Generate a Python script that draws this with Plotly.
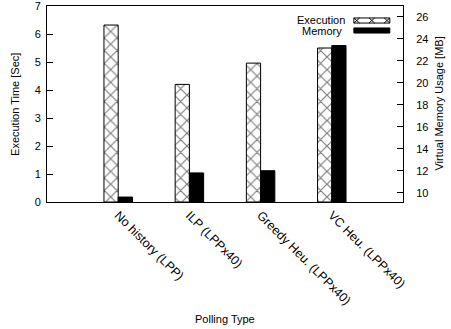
import plotly.graph_objects as go

categories = ["No history (LPP)", "ILP (LPPx40)", "Greedy Heu. (LPPx40)", "VC Heu. (LPPx40)"]
execution_sec = [6.32, 4.2, 4.96, 5.5]
memory_mb = [9.6, 11.8, 12.0, 23.4]
left_ticks = [0, 1, 2, 3, 4, 5, 6, 7]
right_ticks = [10, 12, 14, 16, 18, 20, 22, 24, 26]

FONT = "Liberation Sans, Arial, Helvetica, sans-serif"
idx = list(range(len(categories)))

fig = go.Figure()
fig.add_trace(go.Bar(
    x=idx, y=execution_sec, name="Execution", yaxis="y",
    offset=-0.2, width=0.2,
    marker=dict(color="white", line=dict(color="black", width=1),
                pattern=dict(shape="x", fgcolor="black", bgcolor="white", size=9, solidity=0.25)),
    showlegend=False,
))
fig.add_trace(go.Bar(
    x=idx, y=memory_mb, name="Memory", yaxis="y2",
    offset=0.0, width=0.2,
    marker=dict(color="black", line=dict(color="black", width=1)),
    showlegend=False,
))

# gnuplot-style key: text on the left, swatch on the right
ex0, ex1 = 0.862, 0.963
ey0, ey1 = 0.913, 0.939
my0, my1 = 0.862, 0.888
cw = 0.016
shapes = [
    dict(type="rect", xref="paper", yref="paper", x0=ex0, x1=ex1, y0=ey0, y1=ey1,
         line=dict(color="black", width=1), fillcolor="white"),
    dict(type="rect", xref="paper", yref="paper", x0=ex0, x1=ex1, y0=my0, y1=my1,
         line=dict(color="black", width=1), fillcolor="black"),
]
for cx in (ex0, (ex0 + ex1) / 2 - cw / 2, ex1 - cw):
    path = f"M {cx},{ey0} L {cx+cw},{ey1} M {cx},{ey1} L {cx+cw},{ey0}"
    shapes.append(dict(type="path", xref="paper", yref="paper", path=path,
                       line=dict(color="black", width=1)))

annotations = [
    dict(text="Execution", xref="paper", yref="paper", x=0.843, y=(ey0 + ey1) / 2 + 0.005,
         xanchor="right", yanchor="middle", showarrow=False, font=dict(size=11)),
    dict(text="Memory", xref="paper", yref="paper", x=0.834, y=(my0 + my1) / 2,
         xanchor="right", yanchor="middle", showarrow=False, font=dict(size=11)),
    dict(text="Execution Time [Sec]", xref="paper", yref="paper", x=-0.09, y=0.5,
         xanchor="center", yanchor="middle", textangle=-90, showarrow=False, font=dict(size=11)),
    dict(text="Virtual Memory Usage [MB]", xref="paper", yref="paper", x=1.1, y=0.5,
         xanchor="center", yanchor="middle", textangle=-90, showarrow=False, font=dict(size=11)),
    dict(text="Polling Type", xref="paper", yref="paper", x=0.5, y=-0.595,
         xanchor="center", yanchor="middle", showarrow=False, font=dict(size=11)),
]

fig.update_layout(
    width=451, height=329,
    margin=dict(l=47, r=48, t=6, b=127, autoexpand=False),
    paper_bgcolor="white", plot_bgcolor="white",
    font=dict(family=FONT, size=11, color="black"),
    barmode="overlay",
    shapes=shapes,
    annotations=annotations,
    xaxis=dict(
        range=[-1, 4], tickvals=idx, ticktext=categories, tickangle=45,
        showline=True, mirror=True, linecolor="black", linewidth=1,
        showgrid=False, zeroline=False, ticks="", automargin=False,
        tickfont=dict(size=12.5), ticklabeloverflow="allow",
    ),
    yaxis=dict(
        range=[0, 7], tickvals=left_ticks, automargin=False,
        showline=True, linecolor="black", linewidth=1,
        showgrid=False, zeroline=False, ticks="inside", ticklen=6, tickcolor="black",
        ticklabelstandoff=3, ticklabeloverflow="allow",
    ),
    yaxis2=dict(
        range=[9.15, 27], tickvals=right_ticks, overlaying="y", side="right",
        showline=True, linecolor="black", linewidth=1, automargin=False,
        showgrid=False, zeroline=False, ticks="inside", ticklen=6, tickcolor="black",
        ticklabelstandoff=10, ticklabeloverflow="allow",
    ),
)

fig.write_html("out.html", config={"displayModeBar": False},
               post_script="document.body.style.margin='0';document.body.style.padding='0';")
